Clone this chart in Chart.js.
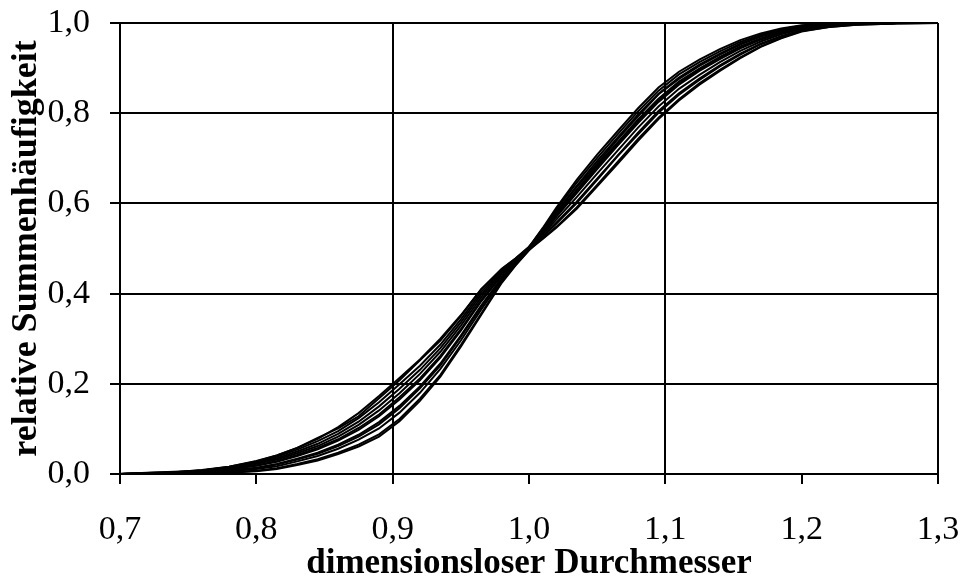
<!DOCTYPE html>
<html>
<head>
<meta charset="utf-8">
<script src="https://cdn.jsdelivr.net/npm/chart.js@4.4.1/dist/chart.umd.min.js"></script>
<style>
  html, body { margin: 0; padding: 0; background: #fff; }
  #wrap { width: 962px; height: 583px; }
</style>
</head>
<body>
<div id="wrap"><canvas id="sumChart" width="962" height="583"></canvas></div>
<script>
// dimensionsloser Durchmesser (x) fuer alle Messreihen
const durchmesser = [0.70, 0.72, 0.74, 0.76, 0.78, 0.80, 0.815, 0.83, 0.845, 0.86,
  0.875, 0.89, 0.905, 0.92, 0.935, 0.95, 0.965, 0.98, 0.99, 1.00,
  1.01, 1.02, 1.035, 1.05, 1.065, 1.08, 1.095, 1.11, 1.125, 1.14,
  1.155, 1.17, 1.185, 1.20, 1.22, 1.24, 1.27, 1.30];

// relative Summenhaeufigkeit je Messreihe
const reihe1 = [0, 0.002, 0.004, 0.009, 0.016, 0.029, 0.041, 0.058, 0.080, 0.101, 0.128, 0.168, 0.208, 0.252, 0.296, 0.350, 0.410, 0.454, 0.477, 0.502, 0.539, 0.579, 0.636, 0.688, 0.742, 0.793, 0.842, 0.876, 0.905, 0.930, 0.952, 0.970, 0.983, 0.992, 0.997, 0.999, 1, 1];
const reihe2 = [0, 0, 0, 0.001, 0.003, 0.006, 0.011, 0.020, 0.030, 0.044, 0.061, 0.083, 0.117, 0.162, 0.216, 0.282, 0.353, 0.424, 0.462, 0.496, 0.526, 0.555, 0.601, 0.652, 0.705, 0.753, 0.801, 0.841, 0.874, 0.904, 0.930, 0.953, 0.970, 0.984, 0.993, 0.997, 1, 1];
const reihe3 = [0, 0.002, 0.004, 0.008, 0.016, 0.028, 0.041, 0.058, 0.078, 0.104, 0.135, 0.173, 0.213, 0.254, 0.300, 0.352, 0.410, 0.455, 0.478, 0.504, 0.535, 0.572, 0.626, 0.680, 0.731, 0.782, 0.829, 0.866, 0.897, 0.923, 0.946, 0.965, 0.979, 0.989, 0.995, 0.998, 1, 1];
const reihe4 = [0, 0.001, 0.001, 0.003, 0.007, 0.013, 0.021, 0.032, 0.045, 0.062, 0.083, 0.110, 0.146, 0.190, 0.241, 0.304, 0.371, 0.434, 0.467, 0.498, 0.522, 0.548, 0.591, 0.641, 0.692, 0.743, 0.790, 0.831, 0.866, 0.896, 0.924, 0.948, 0.967, 0.982, 0.991, 0.996, 0.999, 1];
const reihe5 = [0, 0, 0.001, 0.001, 0.004, 0.007, 0.013, 0.022, 0.033, 0.047, 0.065, 0.088, 0.122, 0.167, 0.220, 0.286, 0.356, 0.426, 0.463, 0.497, 0.534, 0.570, 0.623, 0.676, 0.728, 0.778, 0.825, 0.863, 0.894, 0.920, 0.944, 0.963, 0.978, 0.988, 0.995, 0.998, 1, 1];
const reihe6 = [0, 0.001, 0.003, 0.006, 0.012, 0.022, 0.032, 0.046, 0.062, 0.083, 0.109, 0.141, 0.179, 0.222, 0.271, 0.329, 0.392, 0.445, 0.472, 0.503, 0.545, 0.590, 0.652, 0.708, 0.760, 0.811, 0.857, 0.892, 0.919, 0.942, 0.962, 0.977, 0.988, 0.995, 0.999, 1, 1, 1];
const reihe7 = [0, 0.001, 0.002, 0.005, 0.011, 0.019, 0.029, 0.042, 0.058, 0.077, 0.102, 0.132, 0.170, 0.212, 0.262, 0.321, 0.386, 0.441, 0.469, 0.497, 0.521, 0.546, 0.588, 0.638, 0.688, 0.739, 0.787, 0.828, 0.863, 0.894, 0.922, 0.947, 0.966, 0.981, 0.991, 0.996, 0.999, 1];
const reihe8 = [0, 0.003, 0.005, 0.008, 0.014, 0.024, 0.035, 0.050, 0.067, 0.089, 0.116, 0.150, 0.189, 0.231, 0.279, 0.336, 0.398, 0.448, 0.474, 0.502, 0.540, 0.581, 0.639, 0.694, 0.746, 0.797, 0.843, 0.879, 0.908, 0.932, 0.954, 0.971, 0.984, 0.992, 0.997, 0.999, 1, 1];
const reihe9 = [0, 0, 0.001, 0.003, 0.006, 0.011, 0.017, 0.028, 0.040, 0.056, 0.076, 0.101, 0.136, 0.180, 0.233, 0.296, 0.365, 0.430, 0.465, 0.498, 0.531, 0.564, 0.614, 0.666, 0.717, 0.768, 0.815, 0.854, 0.885, 0.913, 0.938, 0.959, 0.975, 0.987, 0.994, 0.998, 1, 1];
const reihe10 = [0, 0.001, 0.003, 0.008, 0.015, 0.026, 0.038, 0.054, 0.073, 0.095, 0.124, 0.159, 0.199, 0.240, 0.287, 0.343, 0.404, 0.451, 0.476, 0.503, 0.543, 0.586, 0.646, 0.701, 0.753, 0.804, 0.850, 0.886, 0.913, 0.937, 0.958, 0.974, 0.986, 0.994, 0.998, 1, 1, 1];
const reihe11 = [0, 0.001, 0.002, 0.004, 0.008, 0.014, 0.022, 0.034, 0.047, 0.065, 0.087, 0.115, 0.151, 0.194, 0.245, 0.307, 0.374, 0.435, 0.467, 0.499, 0.527, 0.557, 0.604, 0.655, 0.706, 0.757, 0.805, 0.844, 0.877, 0.906, 0.932, 0.954, 0.971, 0.984, 0.993, 0.997, 1, 1];
const reihe12 = [0, 0.001, 0.002, 0.005, 0.010, 0.018, 0.027, 0.040, 0.055, 0.074, 0.098, 0.128, 0.165, 0.208, 0.258, 0.318, 0.383, 0.440, 0.470, 0.501, 0.537, 0.575, 0.630, 0.684, 0.735, 0.786, 0.832, 0.870, 0.899, 0.925, 0.948, 0.966, 0.980, 0.990, 0.996, 0.999, 1, 1];

// Achsenbeschriftung
const xTickValues = [0.7, 0.8, 0.9, 1.0, 1.1, 1.2, 1.3];
const xTickLabels = ['0,7', '0,8', '0,9', '1,0', '1,1', '1,2', '1,3'];
const xGridAt = [0.9, 1.1, 1.3];
const yTickValues = [0, 0.2, 0.4, 0.6, 0.8, 1.0];
const yTickLabels = ['0,0', '0,2', '0,4', '0,6', '0,8', '1,0'];

const alleReihen = [reihe1, reihe2, reihe3, reihe4, reihe5, reihe6,
  reihe7, reihe8, reihe9, reihe10, reihe11, reihe12];

const datasets = alleReihen.map((werte, i) => ({
  label: 'Reihe ' + (i + 1),
  data: werte.map((y, k) => ({ x: durchmesser[k], y: y })),
  borderColor: '#000',
  borderWidth: 2,
  pointRadius: 0,
  tension: 0,
  fill: false
}));

const serif = "'Liberation Serif', 'Times New Roman', serif";

new Chart(document.getElementById('sumChart'), {
  type: 'line',
  data: { datasets: datasets },
  options: {
    responsive: false,
    animation: false,
    layout: { padding: { top: 23, right: 24, left: 0, bottom: 0 }, autoPadding: false },
    plugins: {
      legend: { display: false },
      tooltip: { enabled: false }
    },
    scales: {
      x: {
        type: 'linear',
        min: 0.7,
        max: 1.3,
        afterBuildTicks: (scale) => { scale.ticks = xTickValues.map(v => ({ value: v })); },
        // feste Achsenhoehe, Randabstaende kommen aus layout.padding
        afterFit: (scale) => {
          scale.height = 109;
          scale.paddingLeft = 0;
          scale.paddingRight = 0;
        },
        ticks: {
          color: '#000',
          padding: 26,
          maxRotation: 0,
          font: { family: serif, size: 34 },
          callback: (v, i) => xTickLabels[i]
        },
        grid: {
          color: (ctx) => (ctx.tick && xGridAt.some(g => Math.abs(g - ctx.tick.value) < 1e-6)) ? '#000' : 'rgba(0,0,0,0)',
          tickColor: '#000',
          lineWidth: 2,
          tickLength: 10
        },
        border: { display: true, color: '#000', width: 2 },
        title: {
          display: true,
          text: 'dimensionsloser Durchmesser',
          color: '#000',
          font: { family: serif, size: 35, weight: 'bold', lineHeight: 1.2 },
          padding: { top: 0, bottom: -2 }
        }
      },
      y: {
        min: 0,
        max: 1,
        afterBuildTicks: (scale) => { scale.ticks = yTickValues.map(v => ({ value: v })); },
        afterFit: (scale) => {
          scale.width = 120;
          scale.paddingTop = 0;
          scale.paddingBottom = 0;
        },
        ticks: {
          color: '#000',
          padding: 20,
          font: { family: serif, size: 34 },
          callback: (v, i) => yTickLabels[i]
        },
        grid: {
          color: '#000',
          tickColor: '#000',
          lineWidth: 2,
          tickLength: 10
        },
        border: { display: true, color: '#000', width: 2 },
        title: {
          display: true,
          text: 'relative Summenhäufigkeit',
          color: '#000',
          font: { family: serif, size: 36, weight: 'bold', lineHeight: 1.2 },
          padding: { top: 5, bottom: 0 }
        }
      }
    }
  }
});
</script>
</body>
</html>
